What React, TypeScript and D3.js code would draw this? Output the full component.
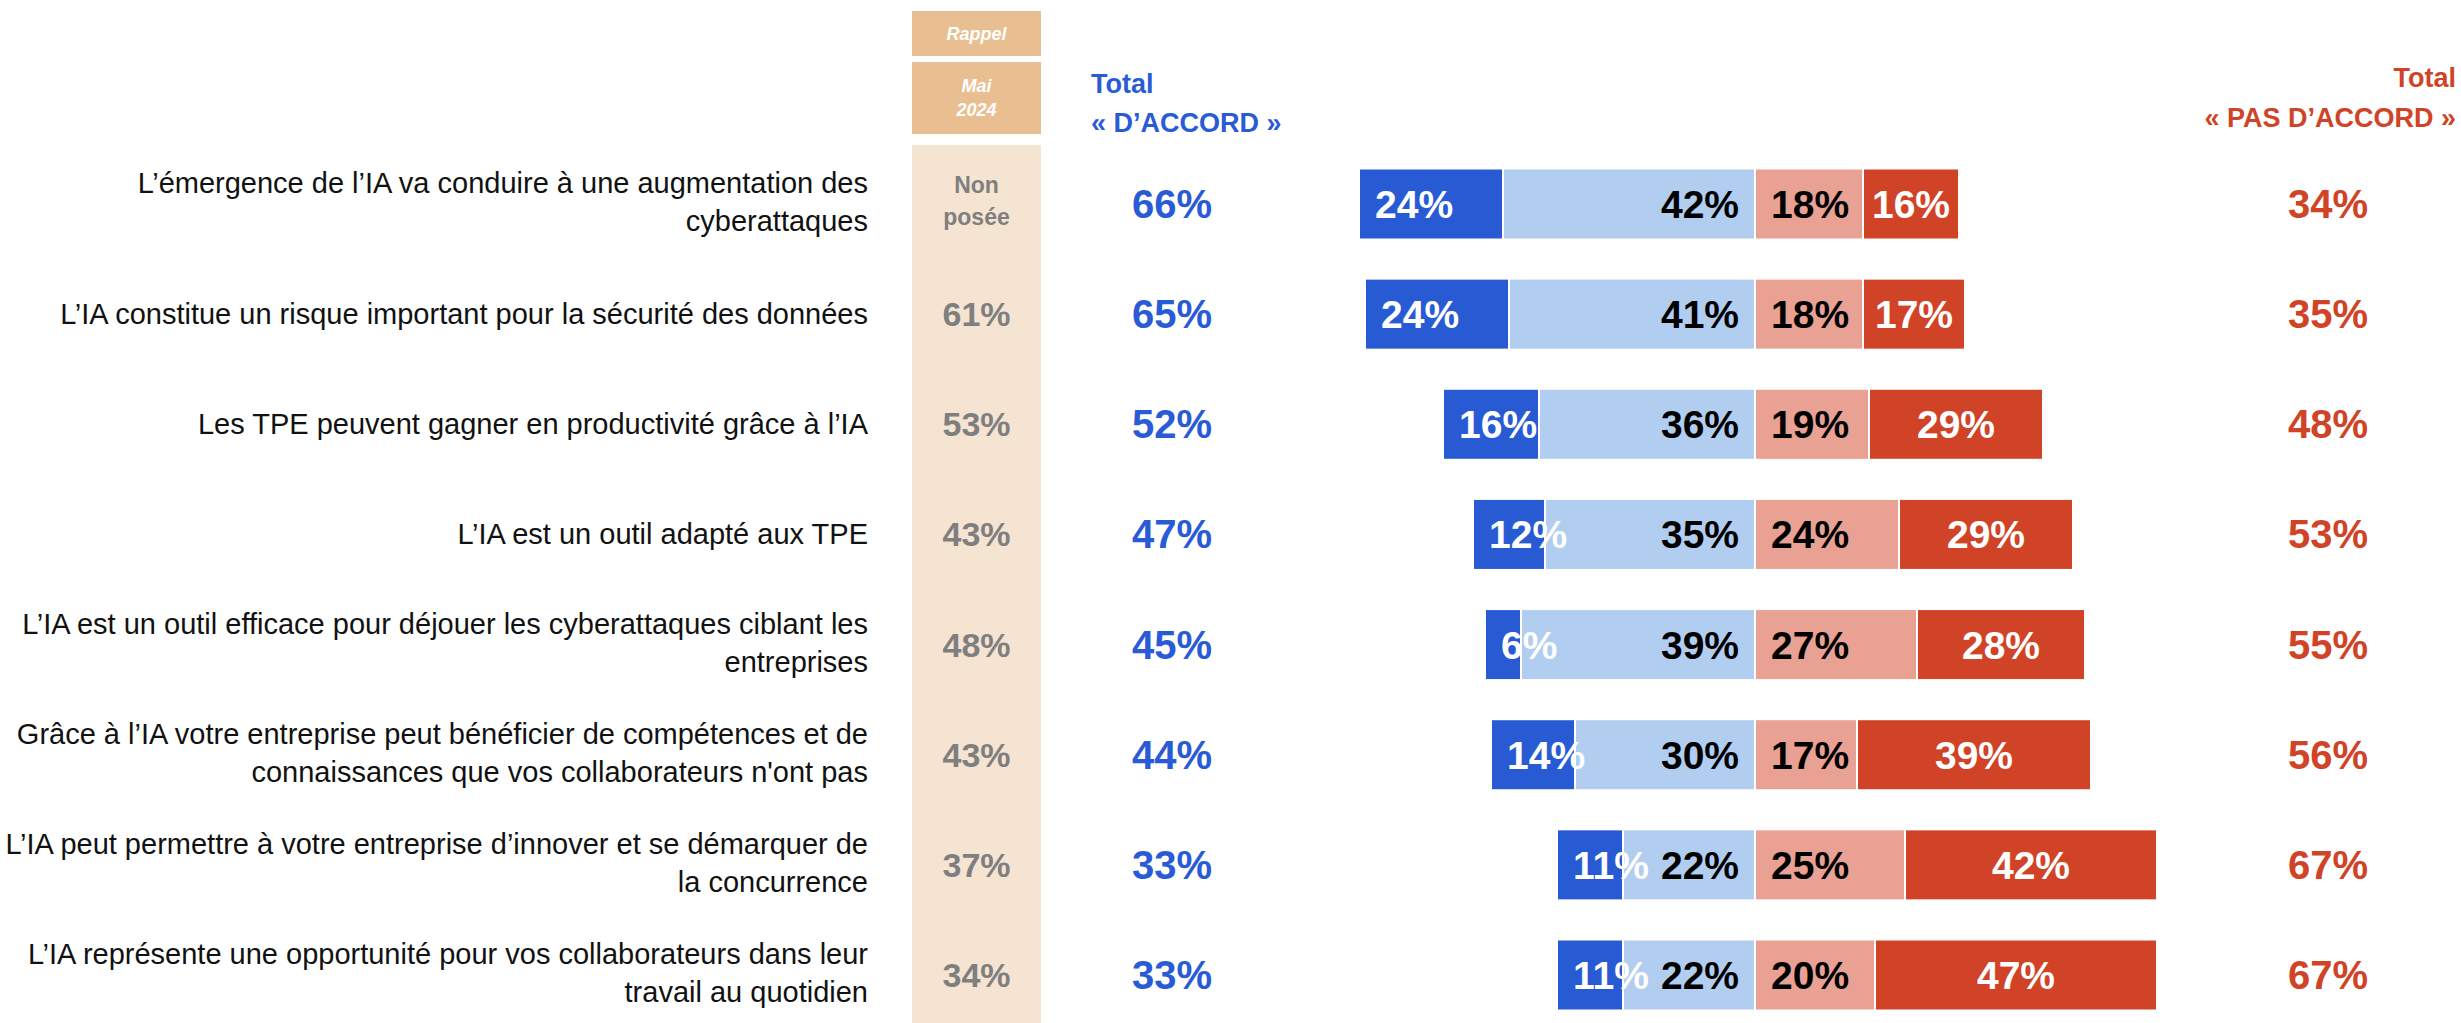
import * as React from "react";
import * as d3 from "d3";

// questions (line breaks as in the slide)
const LABELS: string[][] = [
  ["L’émergence de l’IA va conduire à une augmentation des", "cyberattaques"],
  ["L’IA constitue un risque important pour la sécurité des données"],
  ["Les TPE peuvent gagner en productivité grâce à l’IA"],
  ["L’IA est un outil adapté aux TPE"],
  ["L’IA est un outil efficace pour déjouer les cyberattaques ciblant les", "entreprises"],
  ["Grâce à l’IA votre entreprise peut bénéficier de compétences et de", "connaissances que vos collaborateurs n'ont pas"],
  ["L’IA peut permettre à votre entreprise d’innover et se démarquer de", "la concurrence"],
  ["L’IA représente une opportunité pour vos collaborateurs dans leur", "travail au quotidien"],
];

// rappel mai 2024
const RAPPEL = ["Non posée", "61%", "53%", "43%", "48%", "43%", "37%", "34%"];

const TOUT_A_FAIT = [24, 24, 16, 12, 6, 14, 11, 11];
const PLUTOT_OUI = [42, 41, 36, 35, 39, 30, 22, 22];
const PLUTOT_NON = [18, 18, 19, 24, 27, 17, 25, 20];
const PAS_DU_TOUT = [16, 17, 29, 29, 28, 39, 42, 47];

const TOTAL_ACCORD = [66, 65, 52, 47, 45, 44, 33, 33];
const TOTAL_PAS = [34, 35, 48, 53, 55, 56, 67, 67];

const W = 2461,
  H = 1023;
const FONT = "'Liberation Sans', Arial, sans-serif";
const BLUE = "#2A5BD7";
const RED = "#D04327";

export default function App() {
  const ref = React.useRef<SVGSVGElement>(null);

  React.useEffect(() => {
    if (!ref.current) return;
    const svg = d3.select(ref.current);
    svg.selectAll("*").remove();

    const x = d3.scaleLinear().domain([-70, 70]).range([1335, 2175]);
    const y = d3
      .scalePoint<number>()
      .domain(d3.range(LABELS.length))
      .range([204, 975]);
    const barH = 71;

    // rappel column
    svg.append("rect").attr("x", 912).attr("y", 11).attr("width", 129).attr("height", 45).attr("fill", "#E9BF91");
    svg.append("rect").attr("x", 912).attr("y", 62).attr("width", 129).attr("height", 72).attr("fill", "#E9BF91");
    svg.append("rect").attr("x", 912).attr("y", 145).attr("width", 129).attr("height", H - 145).attr("fill", "#F6E4D3");

    const head = svg
      .append("g")
      .attr("font-family", FONT)
      .attr("font-weight", "bold")
      .attr("font-style", "italic")
      .attr("font-size", 18)
      .attr("fill", "#fff")
      .attr("text-anchor", "middle");
    head.append("text").attr("x", 976.5).attr("y", 40).text("Rappel");
    head.append("text").attr("x", 976.5).attr("y", 92).text("Mai");
    head.append("text").attr("x", 976.5).attr("y", 116).text("2024");

    // column headers
    const hl = svg.append("g").attr("font-family", FONT).attr("font-weight", "bold").attr("font-size", 27).attr("fill", BLUE);
    hl.append("text").attr("x", 1091).attr("y", 93).text("Total");
    hl.append("text").attr("x", 1091).attr("y", 132).text("« D’ACCORD »");
    const hr = svg
      .append("g")
      .attr("font-family", FONT)
      .attr("font-weight", "bold")
      .attr("font-size", 27)
      .attr("fill", RED)
      .attr("text-anchor", "end");
    hr.append("text").attr("x", 2456).attr("y", 87).text("Total");
    hr.append("text").attr("x", 2456).attr("y", 127).text("« PAS D’ACCORD »");

    const rows = svg
      .selectAll("g.row")
      .data(LABELS.map((_, i) => i))
      .enter()
      .append("g")
      .attr("class", "row")
      .attr("transform", (i) => `translate(0,${y(i)})`);

    // question labels
    rows
      .append("text")
      .attr("font-family", FONT)
      .attr("font-size", 29)
      .attr("fill", "#111")
      .attr("text-anchor", "end")
      .each(function (i) {
        const lines = LABELS[i];
        const t = d3.select(this);
        const y0 = lines.length === 2 ? -11 : 10;
        lines.forEach((l, k) => {
          t.append("tspan").attr("x", 868).attr("y", y0 + k * 38).text(l);
        });
      });

    // rappel values
    rows.each(function (i) {
      const g = d3.select(this);
      const v = RAPPEL[i];
      if (v.includes(" ")) {
        const parts = v.split(" ");
        parts.forEach((p, k) => {
          g.append("text")
            .attr("x", 976.5)
            .attr("y", -11 + k * 32)
            .attr("text-anchor", "middle")
            .attr("font-family", FONT)
            .attr("font-weight", "bold")
            .attr("font-size", 23)
            .attr("fill", "#7F7F7F")
            .text(p);
        });
      } else {
        g.append("text")
          .attr("x", 976.5)
          .attr("y", 12)
          .attr("text-anchor", "middle")
          .attr("font-family", FONT)
          .attr("font-weight", "bold")
          .attr("font-size", 34)
          .attr("fill", "#7F7F7F")
          .text(v);
      }
    });

    // totals
    rows
      .append("text")
      .attr("x", 1172)
      .attr("y", 14)
      .attr("text-anchor", "middle")
      .attr("font-family", FONT)
      .attr("font-weight", "bold")
      .attr("font-size", 40)
      .attr("fill", BLUE)
      .text((i) => TOTAL_ACCORD[i] + "%");
    rows
      .append("text")
      .attr("x", 2328)
      .attr("y", 14)
      .attr("text-anchor", "middle")
      .attr("font-family", FONT)
      .attr("font-weight", "bold")
      .attr("font-size", 40)
      .attr("fill", RED)
      .text((i) => TOTAL_PAS[i] + "%");

    // stacked bars
    rows.each(function (i) {
      const g = d3.select(this);
      const a = TOUT_A_FAIT[i],
        b = PLUTOT_OUI[i],
        c = PLUTOT_NON[i],
        d = PAS_DU_TOUT[i];
      const segs = [
        { x0: -(a + b), x1: -b, v: a, fill: "#285BD3", txt: "#fff", align: "start" },
        { x0: -b, x1: 0, v: b, fill: "#B1CDF0", txt: "#000", align: "end" },
        { x0: 0, x1: c, v: c, fill: "#E8A193", txt: "#000", align: "start" },
        { x0: c, x1: c + d, v: d, fill: "#D04327", txt: "#fff", align: "middle" },
      ];
      segs.forEach((s) => {
        g.append("rect")
          .attr("x", x(s.x0))
          .attr("y", -barH / 2)
          .attr("width", x(s.x1) - x(s.x0))
          .attr("height", barH)
          .attr("fill", s.fill)
          .attr("stroke", "#fff")
          .attr("stroke-width", 2);
      });
      segs.forEach((s) => {
        const tx =
          s.align === "start" ? x(s.x0) + 16 : s.align === "end" ? x(s.x1) - 16 : (x(s.x0) + x(s.x1)) / 2;
        g.append("text")
          .attr("x", tx)
          .attr("y", 14)
          .attr("text-anchor", s.align)
          .attr("font-family", FONT)
          .attr("font-weight", "bold")
          .attr("font-size", 39)
          .attr("fill", s.txt)
          .text(s.v + "%");
      });
    });
  }, []);

  return (
    <svg
      ref={ref}
      width={W}
      height={H}
      style={{ position: "absolute", left: 0, top: 0, background: "#fff" }}
    />
  );
}
